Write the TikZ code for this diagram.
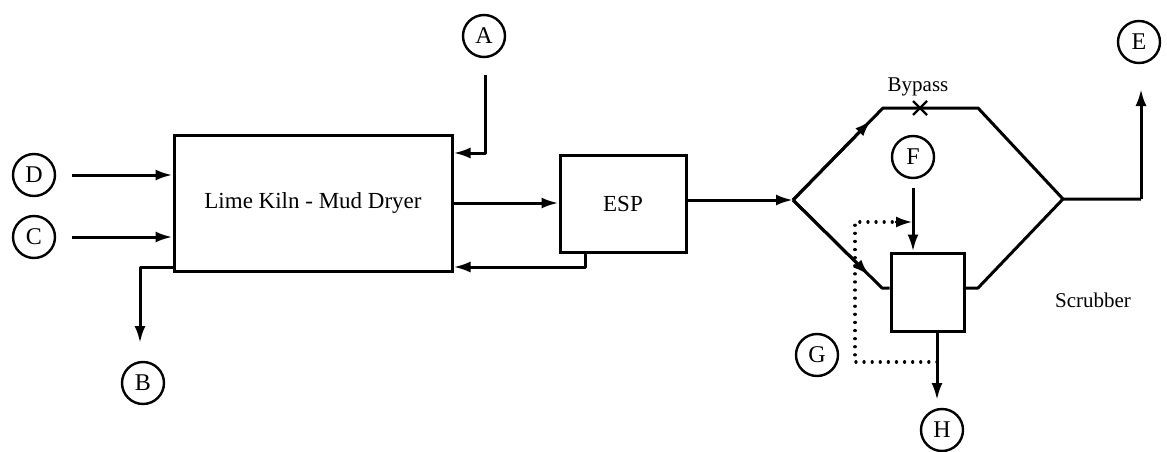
\documentclass[tikz,border=0pt]{standalone}
\usepackage{fontspec}
\setmainfont{Liberation Serif}
\usetikzlibrary{arrows.meta,calc}
\begin{document}
\begin{tikzpicture}[x=1pt,y=-1pt,
  conn/.style={line width=3pt,line join=round},
  box/.style={draw,line width=3pt,inner sep=0pt,font=\fontsize{23}{25}\selectfont},
  lbl/.style={draw,circle,line width=2.4pt,minimum size=42pt,inner sep=0pt,font=\fontsize{24}{26}\selectfont},
  arr/.style={conn,-{Latex[length=17pt,width=11pt]}},
  txt/.style={font=\fontsize{21}{23}\selectfont,inner sep=0pt},
  dots/.style={line width=3.2pt,dash pattern=on 0.1pt off 8pt,line cap=round}]
\useasboundingbox (0,0) rectangle (1167,452);
% boxes
\node[box,minimum width=278pt,minimum height=136pt] (kiln) at (313,203) {Lime Kiln - Mud Dryer};
\node[box,minimum width=126pt,minimum height=97pt] (esp) at (623,203.5) {ESP};
\node[box,minimum width=73pt,minimum height=78pt] (scrub) at (927.5,292) {};
% circle labels
\node[lbl] (A) at (484,36) {A};
\node[lbl] (B) at (143,383) {B};
\node[lbl] (C) at (34,237) {C};
\node[lbl] (D) at (34,175) {D};
\node[lbl] (E) at (1139,42) {E};
\node[lbl] (F) at (913,157) {F};
\node[lbl] (G) at (817,355) {G};
\node[lbl] (H) at (942,430) {H};
% texts
\node[txt] (bypass) at (918,87) {Bypass};
\node[txt] (scrubtxt) at (1093,300) {Scrubber};
% coordinates
\coordinate (J) at (793,200);
\coordinate (U1) at (883,108);
\coordinate (U2) at (978,108);
\coordinate (K) at (1063,199);
\coordinate (L1) at (882,288);
\coordinate (R1) at (978,288);
\coordinate (Atop) at (485,75);
\coordinate (Ecorner) at (1141,199);
\coordinate (Etip) at (1141,89);
\coordinate (Bcorner) at (140,267);
\coordinate (Btip) at (140,343);
\coordinate (Espdrop) at (585,267);
\coordinate (Fstart) at (913,188);
\coordinate (Htip) at (937,400);
\coordinate (Gbr) at (937,362);
\coordinate (Gbl) at (855,362);
\coordinate (Gtl) at (855,222);
\coordinate (Gtip) at (912,222);
\coordinate (X) at (920,108);
% kiln connectors
\draw[arr] ($(D.east)+(16,0)$) -- (kiln.west |- D);
\draw[arr] ($(C.east)+(16,0)$) -- (kiln.west |- C);
\draw[arr] (Atop) |- (kiln.east |- 0,153);
\draw[arr] (kiln.west |- Bcorner) -| (Btip);
\draw[arr] (kiln.east) -- (esp.west |- kiln.east);
\draw[arr] (esp.south -| Espdrop) -- (Espdrop) -- (kiln.east |- Espdrop);
\draw[arr] (esp.east |- J) -- (J);
% scrubber / bypass
\draw[conn] (J) -- (U1) -- (U2) -- (K);
\draw[arr] (J) -- ($(J)!0.87!(U1)$);
\draw[conn] (J) -- (L1) -- (scrub.west |- L1);
\draw[arr] (J) -- ($(J)!0.86!(L1)$);
\draw[conn] (scrub.east |- R1) -- (R1) -- (K) -- (Ecorner);
\draw[arr] (Ecorner) -- (Etip);
\draw[arr] (Fstart) -- (Fstart |- scrub.north);
\draw[arr] (scrub.south -| Htip) -- (Htip);
\draw[dots] (Gbr) -- (Gbl) -- (Gtl) -- ($(Gtip)+(-16,0)$);
\draw[-{Latex[length=16pt,width=11pt]},line width=2pt] ($(Gtip)+(-17,0)$) -- (Gtip);
% bypass valve mark
\draw[line width=2.4pt] ($(X)+(-7,-7)$) -- ($(X)+(7,7)$) ($(X)+(-7,7)$) -- ($(X)+(7,-7)$);
\end{tikzpicture}
\end{document}
